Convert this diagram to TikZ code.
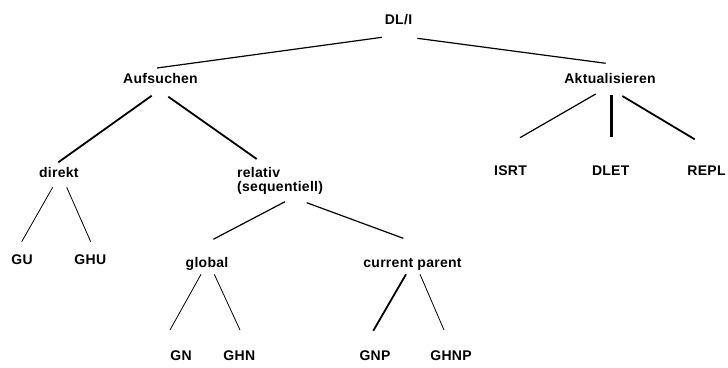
\documentclass[tikz,border=0pt]{standalone}
\usepackage{fontspec}
\setmainfont{Liberation Sans}[LetterSpace=2]
\begin{document}
\begin{tikzpicture}[x=1pt,y=-1pt,
  lbl/.style={font=\fontsize{14}{14}\selectfont\bfseries, inner sep=0pt, anchor=base},
  thinedge/.style={draw=black, line width=0.8pt},
  midedge/.style={draw=black, line width=1.2pt},
  boldedge/.style={draw=black, line width=1.8pt},
  heavyedge/.style={draw=black, line width=3pt}]
\useasboundingbox (0,0) rectangle (728,367);

% labels of the tree
\node[lbl] (dli)     at (398.5,24.5) {DL/I};
\node[lbl] (auf)     at (160.5,83)   {Aufsuchen};
\node[lbl] (akt)     at (610,83)     {Aktualisieren};
\node[lbl] (direkt)  at (58.8,177)   {direkt};
\node[lbl, anchor=north west, align=left] (relativ) at (237,166.8) {relativ\\(sequentiell)};
\node[lbl] (isrt)    at (510.5,175)  {ISRT};
\node[lbl] (dlet)    at (610.7,175)  {DLET};
\node[lbl] (repl)    at (706.5,175)  {REPL};
\node[lbl] (gu)      at (22,264.5)   {GU};
\node[lbl] (ghu)     at (90.3,264.5) {GHU};
\node[lbl] (global)  at (207,267.5)  {global};
\node[lbl] (cparent) at (412.5,267.5){current parent};
\node[lbl] (gn)      at (181,360)    {GN};
\node[lbl] (ghn)     at (239.3,360)  {GHN};
\node[lbl] (gnp)     at (375,360)    {GNP};
\node[lbl] (ghnp)    at (451,360)    {GHNP};

% free ends of the branches, a little away from the labels
\coordinate (dli-l)   at (382,37.3);   \coordinate (auf-t)    at (157,68);
\coordinate (dli-r)   at (417.3,38.3); \coordinate (akt-t)    at (605.7,63.3);
\coordinate (auf-l)   at (151.7,95.7); \coordinate (direkt-t) at (58.3,162.3);
\coordinate (auf-r)   at (168.3,96.7); \coordinate (relativ-t) at (256.7,159);
\coordinate (akt-l)   at (595.7,94);   \coordinate (isrt-t)   at (520,137.7);
\coordinate (akt-m)   at (611.3,95);   \coordinate (dlet-t)   at (611.3,137.3);
\coordinate (akt-r)   at (622.3,96);   \coordinate (repl-t)   at (694.7,139.3);
\coordinate (direkt-l) at (52.7,187.3); \coordinate (gu-t)    at (21.7,241.7);
\coordinate (direkt-r) at (66.7,187.3); \coordinate (ghu-t)   at (90.7,241.7);
\coordinate (relativ-l) at (285,201.7);   \coordinate (global-t)  at (213.3,239.3);
\coordinate (relativ-r) at (306.7,202.7); \coordinate (cparent-t) at (403.3,238.3);
\coordinate (global-l) at (201,274.3);  \coordinate (gn-t)    at (170,330);
\coordinate (global-r) at (214.3,274.3);\coordinate (ghn-t)   at (240,330);
\coordinate (cparent-l) at (406,274.3); \coordinate (gnp-t)   at (373.3,330.7);
\coordinate (cparent-r) at (420,274.3); \coordinate (ghnp-t)  at (444,330);

% branches
\draw[midedge]   (dli-l) -- (auf-t);
\draw[midedge]   (dli-r) -- (akt-t);
\draw[boldedge]  (auf-l) -- (direkt-t);
\draw[boldedge]  (auf-r) -- (relativ-t);
\draw[midedge]   (akt-l) -- (isrt-t);
\draw[heavyedge] (akt-m) -- (dlet-t);
\draw[boldedge]  (akt-r) -- (repl-t);
\draw[thinedge]  (direkt-l) -- (gu-t);
\draw[thinedge]  (direkt-r) -- (ghu-t);
\draw[midedge]   (relativ-l) -- (global-t);
\draw[midedge]   (relativ-r) -- (cparent-t);
\draw[thinedge]  (global-l) -- (gn-t);
\draw[thinedge]  (global-r) -- (ghn-t);
\draw[boldedge]  (cparent-l) -- (gnp-t);
\draw[thinedge]  (cparent-r) -- (ghnp-t);
\end{tikzpicture}
\end{document}
